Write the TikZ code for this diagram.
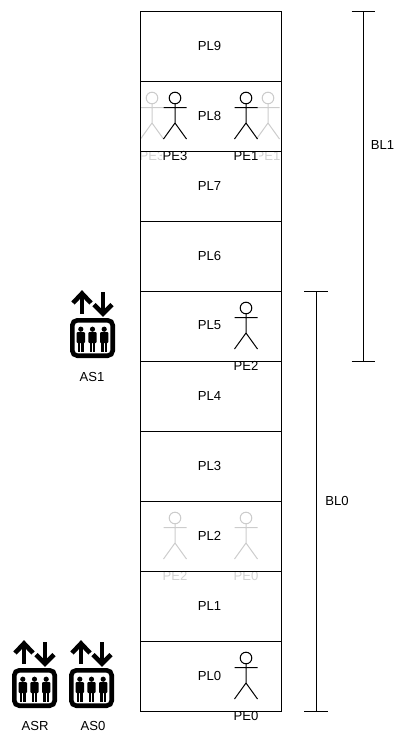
\documentclass[tikz,border=0pt]{standalone}
\usepackage{fontspec}
\setmainfont{Liberation Sans}
\definecolor{ghost}{gray}{0.8}
\definecolor{ghosttext}{gray}{0.82}
\tikzset{
  x=1pt,y=-1pt,
  every node/.style={font=\fontsize{13.1}{15}\selectfont,inner sep=0pt},
  pl/.style={draw=black,line width=0.9pt,minimum width=141pt,minimum height=70pt,anchor=north west},
  person/.pic={
    \draw[line width=1pt,pic actions] (0,0) circle (5.8) (0,5.8) -- (0,25) (-11.5,9.7) -- (11.5,9.7) (-11.5,41) -- (0,25) -- (11.5,41);
  },
  elevator/.pic={
    \draw[line width=4.6pt,rounded corners=5pt] (-20.2,-18.7) rectangle (20.2,16.7);
    \draw[line width=4.6pt,miter limit=10] (-19.5,-36) -- (-10.5,-45.5) -- (-1.5,-36);
    \draw[line width=4.6pt] (-10.5,-45.5) -- (-10.5,-25);
    \draw[line width=4.6pt,miter limit=10] (1.5,-34.5) -- (10.5,-25.5) -- (19.5,-34.5);
    \draw[line width=4.6pt] (10.5,-25.5) -- (10.5,-47);
    \foreach \xx in {-11.7,0,11.7}{
      \fill (\xx,-9.8) circle (2.6);
      \fill[rounded corners=1pt] (\xx-4.2,-7) rectangle (\xx+4.2,4);
      \fill (\xx-2.9,2) rectangle (\xx-0.4,13);
      \fill (\xx+0.4,2) rectangle (\xx+2.9,13);
    }
  },
  brk/.style={line width=0.9pt},
  ghostlabel/.style={text=ghosttext},
}
\begin{document}
\begin{tikzpicture}
\useasboundingbox (0,0) rectangle (394,732);
% ghost persons
\pic[draw=ghost] at (152,98) {person};
\pic[draw=ghost] at (268,98) {person};
\pic[draw=ghost] at (175,518) {person};
\pic[draw=ghost] at (246,518) {person};
\node[ghostlabel] (g3) at (152,155.5) {PE3};
\node[ghostlabel] (g1) at (268,155.5) {PE1};
\node[ghostlabel] (g2) at (175,575.5) {PE2};
\node[ghostlabel] (g0) at (246,575.5) {PE0};
% persons
\pic[draw=black] at (175,98) {person};
\pic[draw=black] at (246,98) {person};
\pic[draw=black] at (246,308) {person};
\pic[draw=black] at (246,658) {person};
\node[fill=white,inner xsep=0.5pt] (e3) at (175,155.5) {PE3};
\node[fill=white,inner xsep=0.5pt] (e1) at (246,155.5) {PE1};
\node (e2) at (246,365.5) {PE2};
\node (e0) at (246,715.5) {PE0};
% levels
\foreach \i/\yy in {9/11,8/81,7/151,6/221,5/291,4/361,3/431,2/501,1/571,0/641}{
  \node[pl] (p\i) at (140,\yy) {};
  \node (t\i) at (209.5,\yy+34.5) {PL\i};
}
% brackets
\coordinate (b1t) at (363,11);
\coordinate (b1b) at (363,361);
\coordinate (b0t) at (316,291);
\coordinate (b0b) at (316,711);
\draw[brk] (b1t) -- (b1b);
\draw[brk] ([xshift=-11.5pt]b1t) -- ([xshift=11.5pt]b1t);
\draw[brk] ([xshift=-11.5pt]b1b) -- ([xshift=11.5pt]b1b);
\draw[brk] (b0t) -- (b0b);
\draw[brk] ([xshift=-12pt]b0t) -- ([xshift=12pt]b0t);
\draw[brk] ([xshift=-12pt]b0b) -- ([xshift=12pt]b0b);
\node (bl1) at (382.5,144.5) {BL1};
\node (bl0) at (337,500.5) {BL0};
% elevators
\pic at (92.5,339) {elevator};
\pic at (34.5,689) {elevator};
\pic at (91.5,689) {elevator};
\node (as1) at (92,377) {AS1};
\node (asr) at (35,726) {ASR};
\node (as0) at (93,726) {AS0};
\end{tikzpicture}
\end{document}
